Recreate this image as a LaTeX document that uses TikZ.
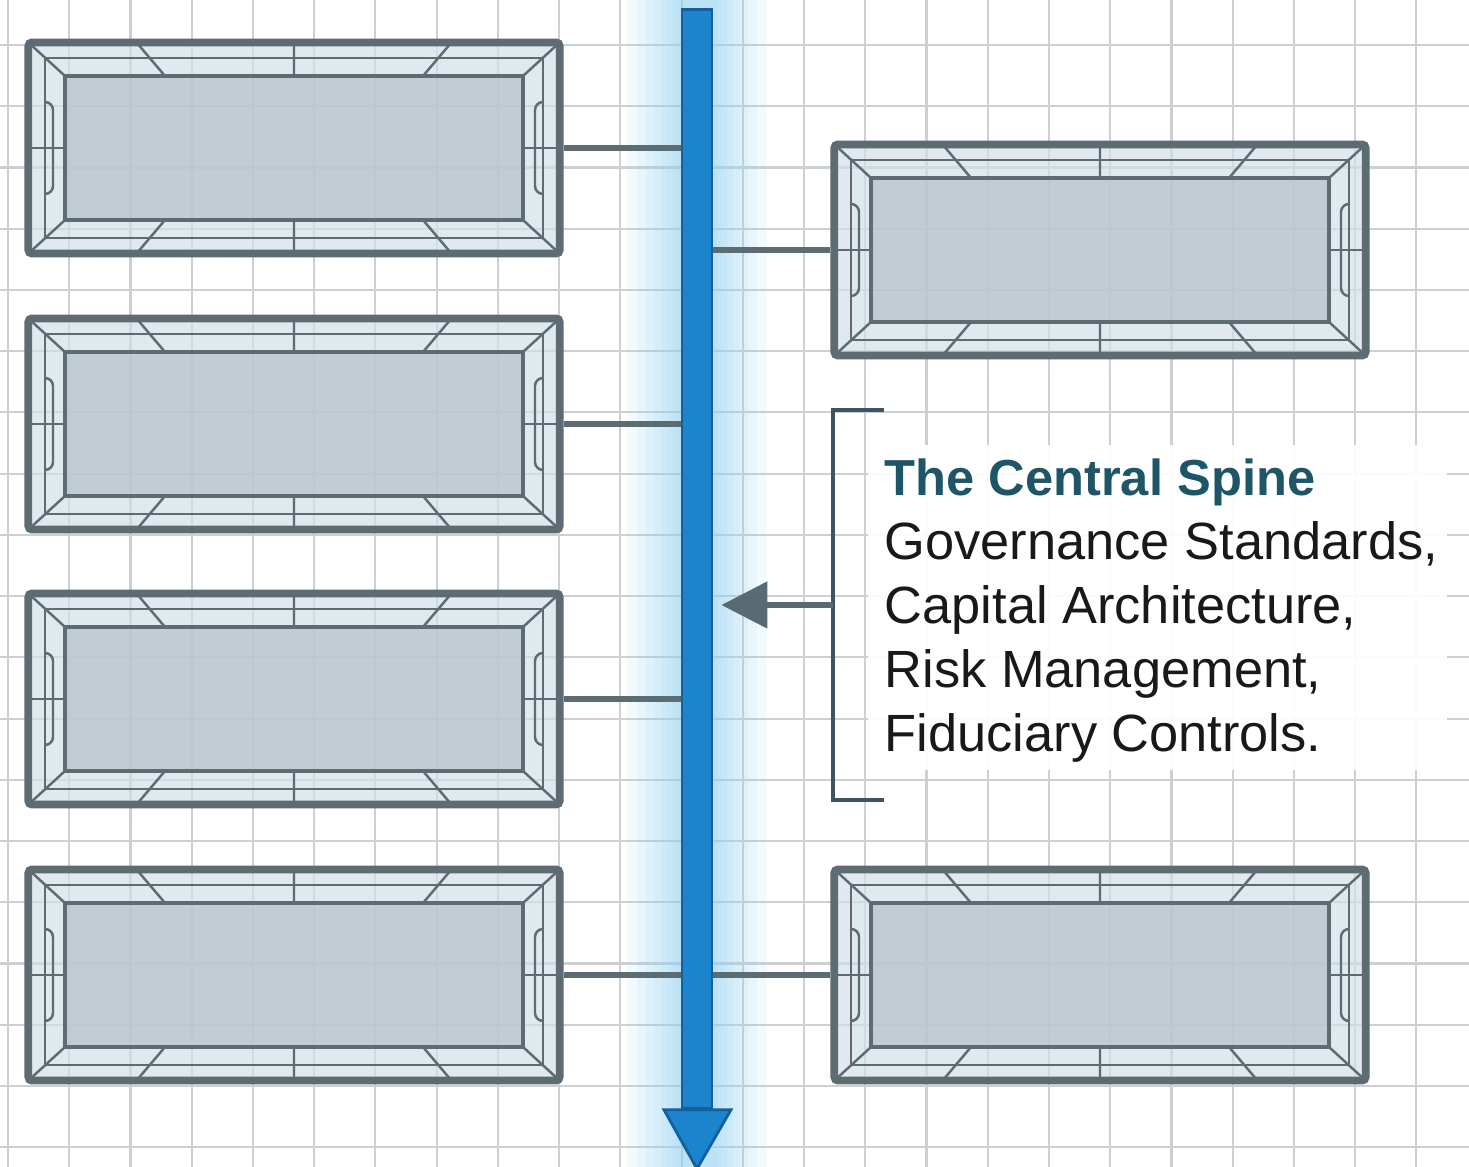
\documentclass[tikz,border=0pt]{standalone}
\usepackage{fontspec}
\setmainfont{Liberation Sans}
\usetikzlibrary{arrows.meta}

\definecolor{edgegray}{RGB}{93,108,115}
\definecolor{bevelfill}{RGB}{210,224,231}
\definecolor{innergray}{RGB}{176,187,194}
\definecolor{gridgray}{RGB}{205,208,210}
\definecolor{spineblue}{RGB}{27,132,204}
\definecolor{spineedge}{RGB}{18,96,156}
\definecolor{glowblue}{RGB}{150,212,245}
\definecolor{titleteal}{RGB}{30,86,104}
\definecolor{bracketgray}{RGB}{62,84,96}
\definecolor{pointergray}{RGB}{90,106,114}

\begin{document}
\begin{tikzpicture}[x=0.01cm, y=-0.01cm,
		gridline/.style={draw=gridgray, line width=0.6pt},
		wire/.style={draw=edgegray, line width=1.7pt},
		thin edge/.style={draw=edgegray, line width=0.7pt},
		panelframe/.style={draw=edgegray, line width=2.2pt, rounded corners=1pt,
			minimum width=5.31cm, minimum height=2.11cm, inner sep=0pt},
		spine/.style={fill=spineblue, draw=spineedge, line width=0.8pt,
			minimum width=0.3cm, inner sep=0pt},
		glow/.style={fill=glowblue, opacity=0.11},
		bracket/.style={draw=bracketgray, line width=1.1pt},
		pointer/.style={draw=pointergray, line width=1.5pt,
			-{Triangle[length=0.46cm, width=0.46cm]}},
		panel/.pic={
			% bevel band and its lines
			\fill[bevelfill, fill opacity=0.7] (-265,-105) rectangle (265,105);
			\draw[thin edge] (-249,-90) rectangle (249,90);
			\draw[thin edge] (-265,-105) -- (-229,-72) (265,-105) -- (229,-72)
				(-265,105) -- (-229,72) (265,105) -- (229,72);
			\draw[thin edge] (-157,-105) -- (-129,-72) (157,-105) -- (129,-72) (0,-105) -- (0,-72);
			\draw[thin edge] (-157,105) -- (-129,72) (157,105) -- (129,72) (0,105) -- (0,72);
			% side handles
			\draw[thin edge] (-249,-46) to[out=0, in=90] (-241,-38) -- (-241,38) to[out=-90, in=0] (-249,46);
			\draw[thin edge] (249,-46) to[out=180, in=90] (241,-38) -- (241,38) to[out=-90, in=180] (249,46);
			\draw[thin edge] (-265,0) -- (-229,0) (265,0) -- (229,0);
			% inner face and outer frame
			\filldraw[fill=innergray, fill opacity=0.6, draw=edgegray, line width=1.2pt] (-229,-72) rectangle (229,72);
			\node[panelframe] (-box) at (0,0) {};
		}]

		\useasboundingbox (0,0) rectangle (1469,1167);
		\fill[white] (0,0) rectangle (1469,1167);

		% Draw the paper grid
		\begin{scope}[shift={(8,45)}]
			\draw[gridline, step=0.612cm] (-8,-45) grid (1461,1122);
		\end{scope}

		% Glow round the spine
		\fill[glow] (627,0) rectangle (767,1167);
		\fill[glow] (637,0) rectangle (757,1167);
		\fill[glow] (646,0) rectangle (748,1167);
		\fill[glow] (654,0) rectangle (740,1167);
		\fill[glow] (661,0) rectangle (733,1167);
		\fill[glow] (667,0) rectangle (727,1167);
		\fill[glow] (672,0) rectangle (722,1167);
		\fill[glow] (676,0) rectangle (718,1167);

		% Draw the panels on the left
		\pic (b1) at (294,148) {panel};
		\pic (b2) at (294,424) {panel};
		\pic (b3) at (294,699) {panel};
		\pic (b4) at (294,975) {panel};

		% Draw the panels on the right
		\pic (c1) at (1100,250) {panel};
		\pic (c2) at (1100,975) {panel};

		% The spine
		\node[spine, minimum height=10.98cm] (spine) at (697,559) {};
		\filldraw[fill=spineblue, draw=spineedge, line width=0.8pt]
			([xshift=-0.33cm]spine.south) -- ([xshift=0.34cm]spine.south)
			-- ([yshift=-0.59cm]spine.south) -- cycle;

		% Draw the wires to the spine
		\draw[wire] (b1-box.east) -- (b1-box.east -| spine.west);
		\draw[wire] (b2-box.east) -- (b2-box.east -| spine.west);
		\draw[wire] (b3-box.east) -- (b3-box.east -| spine.west);
		\draw[wire] (b4-box.east) -- (b4-box.east -| spine.west);
		\draw[wire] (spine.east |- c1-box.west) -- (c1-box.west);
		\draw[wire] (spine.east |- c2-box.west) -- (c2-box.west);

		% Note with bracket and pointer
		\fill[white, fill opacity=0.92] (868,445) rectangle (1447,770);
		\node[anchor=north west, inner sep=0pt, align=left, text={black!90},
			font=\fontsize{14.9}{18.2}\selectfont] (note) at (884,458)
			{{\bfseries\color{titleteal}\fontsize{14.4}{18.2}\selectfont The Central Spine}\\
			Governance Standards,\\Capital Architecture,\\Risk Management,\\Fiduciary Controls.};

		\coordinate (brtop) at (884,410);
		\coordinate (brbot) at (884,800);
		\coordinate (brmid) at (833,605);
		\draw[bracket] (brtop) -- (833,410) -- (833,800) -- (brbot);
		\draw[pointer, shorten >=0.08cm] (brmid) -- (spine.east |- brmid);

	\end{tikzpicture}
\end{document}
